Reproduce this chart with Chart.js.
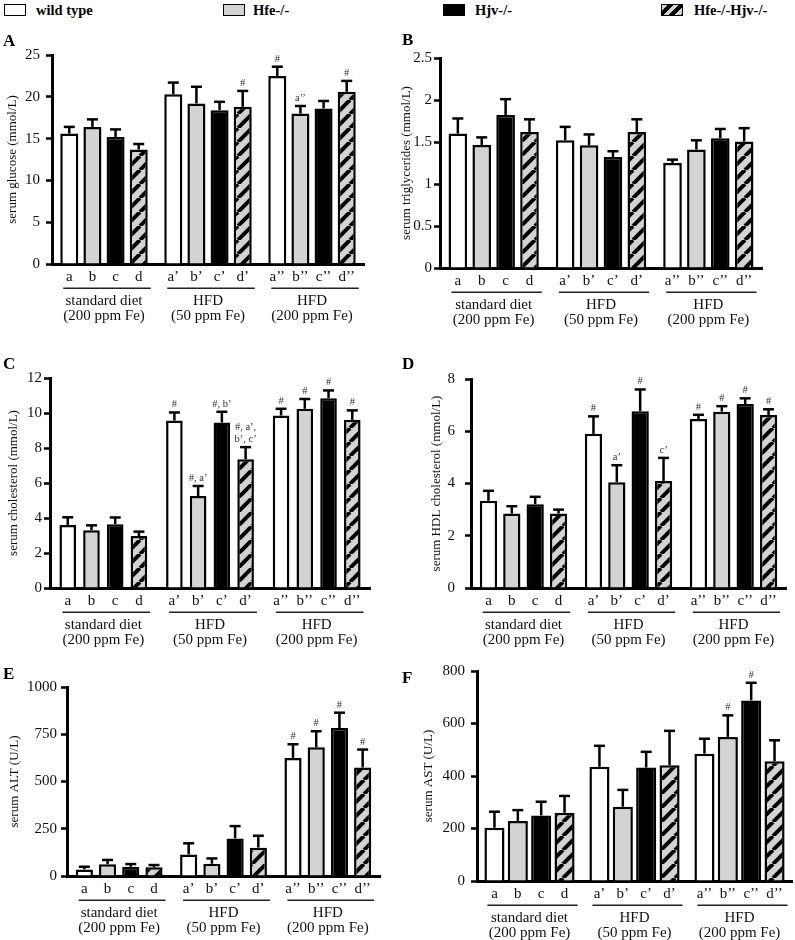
<!DOCTYPE html>
<html><head><meta charset="utf-8">
<script src="https://cdn.jsdelivr.net/npm/chart.js@4.4.0/dist/chart.umd.min.js"></script>
<style>
html,body{margin:0;padding:0;background:#fff;}
#wrap{position:relative;width:795px;height:940px;overflow:hidden;font-family:"Liberation Serif","Times New Roman",serif;background:#fff;}
.cv{position:absolute;}
.bx{position:absolute;top:4px;width:22px;height:12px;border:1.5px solid #000;box-sizing:border-box;}
.lt{position:absolute;top:1px;font-weight:bold;font-size:14.5px;line-height:18px;color:#000;}
.pl{position:absolute;font-weight:bold;font-size:17px;line-height:17px;color:#000;z-index:5;}
</style></head>
<body><div id="wrap">
<div class="bx" style="left:4px;background:#fff"></div><div class="lt" style="left:36px">wild type</div>
<div class="bx" style="left:223px;background:#d3d3d3"></div><div class="lt" style="left:253px">Hfe-/-</div>
<div class="bx" style="left:443px;background:#000"></div><div class="lt" style="left:475px">Hjv-/-</div>
<div class="bx" style="left:661px;background:repeating-linear-gradient(135deg,#d3d3d3 0 4px,#000 4px 8px)"></div><div class="lt" style="left:694px">Hfe-/-Hjv-/-</div>
<div class="pl" style="left:3px;top:32px">A</div>
<div class="pl" style="left:402px;top:31px">B</div>
<div class="pl" style="left:3px;top:355px">C</div>
<div class="pl" style="left:402px;top:355px">D</div>
<div class="pl" style="left:3px;top:665px">E</div>
<div class="pl" style="left:402px;top:669px">F</div>
</div>
<script>
// ---------- data ----------
const dietGroups = [["standard diet","(200 ppm Fe)"],["HFD","(50 ppm Fe)"],["HFD","(200 ppm Fe)"]];
const genotypes = ["wild type","Hfe-/-","Hjv-/-","Hfe-/-Hjv-/-"];
const barLetters = [["a","a’","a’’"],["b","b’","b’’"],["c","c’","c’’"],["d","d’","d’’"]];

// rows: wild type, Hfe-/-, Hjv-/-, Hfe-/-Hjv-/- ; columns: diet groups
const glucoseMean  = [[15.6,20.3,22.5],[16.4,19.2,18.0],[15.2,18.4,18.6],[13.7,18.8,20.6]];
const glucoseSem   = [[0.8,1.4,1.1],[0.9,2.0,0.9],[0.9,1.0,0.9],[0.65,1.9,1.3]];
const glucoseMarks = [["","","#"],["","","a’’"],["","",""],["","#","#"]];
const glucoseTicks = [0,5,10,15,20,25];

const trigMean  = [[1.60,1.52,1.25],[1.465,1.46,1.41],[1.82,1.32,1.545],[1.62,1.62,1.505]];
const trigSem   = [[0.18,0.16,0.04],[0.09,0.13,0.11],[0.19,0.07,0.11],[0.15,0.15,0.16]];
const trigMarks = [["","",""],["","",""],["","",""],["","",""]];
const trigTicks = [0,0.5,1,1.5,2,2.5];

const cholMean  = [[3.6,9.57,9.86],[3.3,5.26,10.24],[3.65,9.46,10.85],[2.97,7.36,9.61]];
const cholSem   = [[0.44,0.46,0.38],[0.28,0.57,0.56],[0.38,0.61,0.44],[0.25,0.69,0.54]];
const cholMarks = [["","#","#"],["","#, a’","#"],["","#, b’","#"],["","#, a’,\nb’, c’","#"]];
const cholTicks = [0,2,4,6,8,10,12];

const hdlMean  = [[3.34,5.9,6.47],[2.85,4.05,6.75],[3.21,6.77,7.04],[2.85,4.1,6.62]];
const hdlSem   = [[0.38,0.67,0.16],[0.28,0.65,0.21],[0.28,0.83,0.22],[0.15,0.88,0.22]];
const hdlMarks = [["","#","#"],["","a’","#"],["","#","#"],["","c’","#"]];
const hdlTicks = [0,2,4,6,8];

const altMean  = [[35,114,625],[62,65,681],[49,199,783],[46,150,574]];
const altSem   = [[14,59,72],[23,28,85],[14,65,81],[12,63,95]];
const altMarks = [["","","#"],["","","#"],["","","#"],["","","#"]];
const altTicks = [0,250,500,750,1000];

const astMean  = [[203,435,485],[229,283,549],[250,432,688],[260,441,456]];
const astSem   = [[61,80,57],[41,64,82],[52,60,67],[64,131,80]];
const astMarks = [["","",""],["","","#"],["","","#"],["","",""]];
const astTicks = [0,200,400,600,800];

// ---------- styling ----------
const FONT = "'Liberation Serif','Times New Roman',serif";
function makeHatch(){
  const p = 14, c = document.createElement('canvas'); c.width = p; c.height = p;
  const g = c.getContext('2d');
  g.fillStyle = '#d3d3d3'; g.fillRect(0,0,p,p);
  g.strokeStyle = '#000'; g.lineWidth = 4;
  for (const k of [-1,0,1]) { g.beginPath(); g.moveTo(k*p, p); g.lineTo(k*p+p, 0); g.stroke(); }
  return g.createPattern(c,'repeat');
}
const fills = ['#ffffff','#d3d3d3','#000000', makeHatch()];

const extras = {
  id:'extras',
  afterDatasetsDraw(chart){
    const ctx = chart.ctx, ys = chart.scales.y, area = chart.chartArea;
    ctx.save();
    chart.data.datasets.forEach((ds,i)=>{
      const meta = chart.getDatasetMeta(i);
      meta.data.forEach((bar,j)=>{
        const top = ys.getPixelForValue(ds.data[j] + ds.sem[j]);
        ctx.strokeStyle = '#000'; ctx.lineWidth = 2.5; ctx.lineCap = 'butt';
        ctx.beginPath(); ctx.moveTo(bar.x, bar.y); ctx.lineTo(bar.x, top); ctx.stroke();
        ctx.beginPath(); ctx.moveTo(bar.x-5.5, top); ctx.lineTo(bar.x+5.5, top); ctx.stroke();
        const m = ds.marks[j];
        if (m) {
          const lines = m.split('\n');
          ctx.fillStyle = '#333'; ctx.font = '10.5px ' + FONT;
          ctx.textAlign = 'center'; ctx.textBaseline = 'alphabetic';
          for (let k = 0; k < lines.length; k++) {
            ctx.fillText(lines[lines.length-1-k], bar.x, top - 5 - k*12);
          }
        }
        ctx.fillStyle = '#111'; ctx.font = '15px ' + FONT;
        ctx.textAlign = 'center'; ctx.textBaseline = 'middle';
        ctx.fillText(ds.letters[j], bar.x, area.bottom + 13);
      });
    });
    const first = chart.getDatasetMeta(0), last = chart.getDatasetMeta(chart.data.datasets.length-1);
    ctx.strokeStyle = '#222'; ctx.lineWidth = 1.5;
    first.data.forEach((b0,j)=>{
      const b3 = last.data[j];
      const yl = Math.round(area.bottom + 24) + 0.25;
      ctx.beginPath();
      ctx.moveTo(b0.x - b0.width/2 + 3, yl);
      ctx.lineTo(b3.x + b3.width/2 + 3, yl);
      ctx.stroke();
    });
    ctx.restore();
  }
};

const wrap = document.getElementById('wrap');
function makePanel(cfg, mean, sem, marks, ticks, title){
  const cv = document.createElement('canvas');
  cv.width = cfg.w; cv.height = cfg.h; cv.className = 'cv';
  cv.style.left = cfg.x + 'px'; cv.style.top = cfg.y + 'px';
  wrap.appendChild(cv);
  const padLeft = Math.max(0, cfg.titleX - cfg.x - 10);
  const aL = cfg.left - cfg.x, aR = cfg.right - cfg.x, aT = cfg.top - cfg.y, aB = cfg.bottom - cfg.y;
  new Chart(cv, {
    type:'bar',
    data:{
      labels: dietGroups,
      datasets: genotypes.map((g,i)=>({
        label:g, data:mean[i], backgroundColor:fills[i], borderColor:'#000', borderWidth:2.5,
        borderSkipped:'start', barPercentage:cfg.bp, categoryPercentage:0.89,
        sem:sem[i], marks:marks[i], letters:barLetters[i]
      }))
    },
    options:{
      responsive:false, animation:false, devicePixelRatio:1,
      layout:{padding:{left:padLeft, top:aT, right:cfg.w - aR, bottom:0}},
      plugins:{legend:{display:false}, tooltip:{enabled:false}},
      scales:{
        x:{
          grid:{display:false, drawTicks:false},
          border:{display:true, width:3, color:'#000'},
          ticks:{padding:30, font:{family:FONT, size:15, lineHeight:0.98}, color:'#111', maxRotation:0, autoSkip:false},
          afterFit(s){ s.height = cfg.h - aB; s.paddingLeft = 0; s.paddingRight = 0; }
        },
        y:{
          min:0, max:ticks[ticks.length-1],
          afterBuildTicks(s){ s.ticks = ticks.map(v=>({value:v})); },
          ticks:{padding:cfg.tickPad, font:{family:FONT, size:15}, color:'#111', callback:v=>String(v)},
          grid:{drawOnChartArea:false, drawTicks:true, tickLength:6, tickWidth:2.5, tickColor:'#000', color:'#000'},
          border:{display:true, width:3, color:'#000'},
          title:{display:true, text:title, font:{family:FONT, size:13}, color:'#111', padding:{top:2,bottom:0}},
          afterFit(s){ s.width = aL - padLeft; }
        }
      }
    },
    plugins:[extras]
  });
}

makePanel({x:0,y:30,w:395,h:296,left:52,top:55,right:364,bottom:264,titleX:13,tickPad:6,bp:0.78},
  glucoseMean, glucoseSem, glucoseMarks, glucoseTicks, "serum glucose (mmol/L)");
makePanel({x:395,y:30,w:400,h:300,left:440,top:58,right:762,bottom:268,titleX:407,tickPad:2,bp:0.78},
  trigMean, trigSem, trigMarks, trigTicks, "serum triglycerides (mmol/L)");
makePanel({x:0,y:330,w:395,h:320,left:50,top:378,right:370,bottom:588,titleX:14,tickPad:2,bp:0.70},
  cholMean, cholSem, cholMarks, cholTicks, "serum cholesterol (mmol/L)");
makePanel({x:395,y:330,w:400,h:320,left:471,top:379,right:786,bottom:588,titleX:437,tickPad:10,bp:0.74},
  hdlMean, hdlSem, hdlMarks, hdlTicks, "serum HDL cholesterol (mmol/L)");
makePanel({x:0,y:640,w:395,h:300,left:67,top:687,right:380,bottom:876,titleX:15,tickPad:4,bp:0.74},
  altMean, altSem, altMarks, altTicks, "serum ALT (U/L)");
makePanel({x:395,y:640,w:400,h:300,left:477,top:671,right:792,bottom:881,titleX:429,tickPad:6,bp:0.86},
  astMean, astSem, astMarks, astTicks, "serum AST (U/L)");
</script>
</body></html>
